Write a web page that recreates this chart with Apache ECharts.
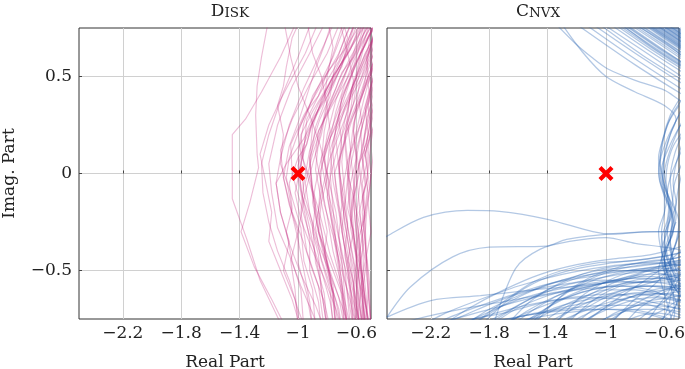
<!DOCTYPE html>
<html>
<head>
<meta charset="utf-8">
<script src="https://cdn.jsdelivr.net/npm/echarts@6/dist/echarts.min.js"></script>
<style>
  html, body { margin: 0; padding: 0; background: #fff; }
  #chart { width: 685px; height: 369px; }
</style>
</head>
<body>
<div id="chart"></div>
<script>
// tick values shared by both panels
const xTicks = [-2.2, -1.8, -1.4, -1, -0.6];
const yTicks = [-0.5, 0, 0.5];
const critical = [[-1, 0]];

// Disk panel: Nyquist curves (real, imag)
const diskCurves = [
  [[-1.0,0.8],[-1.12,0.6],[-1.25,0.42],[-1.36,0.28],[-1.45,0.2],[-1.45,0.05],[-1.45,-0.13],[-1.35,-0.34],[-1.26,-0.55],[-1.14,-0.74],[-1.1,-0.8]],
  [[-1.2,0.8],[-1.25,0.6],[-1.28,0.45],[-1.29,0.3],[-1.28,0.1],[-1.27,0.03],[-1.33,-0.15],[-1.39,-0.3],[-1.3,-0.48],[-1.18,-0.65],[-1.08,-0.8]],
  [[-0.9,0.8],[-1.0,0.6],[-1.1,0.42],[-1.2,0.2],[-1.25,0.05],[-1.24,-0.1],[-1.2,-0.25],[-1.14,-0.4],[-1.06,-0.55],[-1.0,-0.7],[-0.95,-0.8]],
  [[-0.8,0.8],[-0.92,0.62],[-1.04,0.45],[-1.14,0.25],[-1.2,0.05],[-1.18,-0.1],[-1.14,-0.28],[-1.06,-0.42],[-0.98,-0.58],[-0.9,-0.72],[-0.86,-0.8]],
  [[-0.74,0.8],[-0.86,0.6],[-0.96,0.44],[-1.06,0.25],[-1.12,0.08],[-1.15,-0.05],[-1.12,-0.2],[-1.06,-0.36],[-0.98,-0.52],[-0.88,-0.68],[-0.82,-0.8]],
  [[-0.7,0.8],[-0.8,0.62],[-0.92,0.46],[-1.04,0.28],[-1.12,0.12],[-1.1,-0.02],[-1.05,-0.18],[-1.0,-0.34],[-0.96,-0.5],[-0.92,-0.66],[-0.9,-0.8]],
  [[-0.66,0.8],[-0.76,0.6],[-0.86,0.45],[-0.98,0.25],[-1.06,0.08],[-1.08,-0.02],[-1.04,-0.2],[-0.96,-0.36],[-0.9,-0.5],[-0.82,-0.66],[-0.78,-0.8]],
  [[-0.62,0.8],[-0.72,0.62],[-0.84,0.46],[-0.96,0.3],[-1.05,0.15],[-1.04,0.0],[-0.98,-0.16],[-0.92,-0.32],[-0.84,-0.5],[-0.78,-0.66],[-0.75,-0.8]],
  [[-0.6,0.8],[-0.7,0.6],[-0.8,0.44],[-0.9,0.26],[-0.97,0.08],[-1.02,-0.1],[-0.98,-0.24],[-0.9,-0.4],[-0.82,-0.54],[-0.74,-0.7],[-0.7,-0.8]],
  [[-0.58,0.8],[-0.66,0.64],[-0.76,0.48],[-0.88,0.3],[-0.96,0.15],[-1.0,0.04],[-0.97,-0.12],[-0.9,-0.28],[-0.84,-0.44],[-0.76,-0.62],[-0.72,-0.8]],
  [[-0.56,0.8],[-0.64,0.64],[-0.76,0.5],[-0.9,0.32],[-0.98,0.2],[-0.96,0.05],[-0.9,-0.1],[-0.86,-0.28],[-0.8,-0.46],[-0.72,-0.64],[-0.68,-0.8]],
  [[-0.55,0.8],[-0.62,0.62],[-0.72,0.44],[-0.82,0.28],[-0.9,0.1],[-0.95,-0.05],[-0.92,-0.2],[-0.86,-0.36],[-0.78,-0.52],[-0.7,-0.68],[-0.65,-0.8]],
  [[-0.53,0.8],[-0.6,0.64],[-0.7,0.48],[-0.8,0.32],[-0.88,0.18],[-0.92,0.08],[-0.9,-0.08],[-0.84,-0.24],[-0.78,-0.42],[-0.7,-0.6],[-0.66,-0.8]],
  [[-0.5,0.8],[-0.58,0.6],[-0.68,0.42],[-0.76,0.25],[-0.84,0.08],[-0.88,-0.06],[-0.9,-0.15],[-0.86,-0.3],[-0.78,-0.46],[-0.7,-0.62],[-0.66,-0.8]],
  [[-0.46,0.82],[-0.54,0.66],[-0.64,0.52],[-0.76,0.36],[-0.86,0.22],[-0.88,0.1],[-0.84,-0.06],[-0.8,-0.22],[-0.76,-0.4],[-0.7,-0.58],[-0.64,-0.8]],
  [[-0.45,0.8],[-0.52,0.62],[-0.62,0.46],[-0.72,0.3],[-0.8,0.14],[-0.85,0.0],[-0.82,-0.16],[-0.76,-0.32],[-0.7,-0.5],[-0.64,-0.66],[-0.6,-0.8]],
  [[-0.44,0.78],[-0.5,0.64],[-0.58,0.5],[-0.68,0.34],[-0.78,0.18],[-0.82,0.08],[-0.8,-0.08],[-0.74,-0.26],[-0.7,-0.42],[-0.64,-0.6],[-0.6,-0.8]],
  [[-0.45,0.76],[-0.5,0.6],[-0.58,0.44],[-0.66,0.28],[-0.74,0.1],[-0.78,-0.02],[-0.8,-0.12],[-0.76,-0.28],[-0.7,-0.46],[-0.66,-0.62],[-0.62,-0.8]],
  [[-0.44,0.74],[-0.5,0.62],[-0.56,0.5],[-0.66,0.36],[-0.74,0.22],[-0.78,0.12],[-0.76,-0.04],[-0.72,-0.2],[-0.68,-0.38],[-0.62,-0.56],[-0.58,-0.8]],
  [[-0.44,0.72],[-0.5,0.58],[-0.56,0.44],[-0.64,0.28],[-0.7,0.12],[-0.75,0.0],[-0.72,-0.16],[-0.68,-0.32],[-0.64,-0.5],[-0.6,-0.66],[-0.58,-0.8]],
  [[-0.45,0.7],[-0.49,0.56],[-0.55,0.44],[-0.62,0.3],[-0.68,0.16],[-0.72,0.06],[-0.7,-0.1],[-0.66,-0.28],[-0.62,-0.46],[-0.58,-0.64],[-0.56,-0.8]],
  [[-0.45,0.66],[-0.5,0.52],[-0.55,0.38],[-0.6,0.22],[-0.66,0.06],[-0.7,-0.1],[-0.68,-0.26],[-0.64,-0.42],[-0.6,-0.58],[-0.57,-0.72],[-0.55,-0.8]],
  [[-0.44,0.68],[-0.48,0.56],[-0.54,0.44],[-0.62,0.3],[-0.68,0.2],[-0.66,0.06],[-0.64,-0.1],[-0.62,-0.28],[-0.6,-0.46],[-0.56,-0.64],[-0.54,-0.8]],
  [[-0.45,0.6],[-0.5,0.46],[-0.55,0.32],[-0.6,0.18],[-0.64,0.04],[-0.66,-0.06],[-0.64,-0.22],[-0.6,-0.4],[-0.58,-0.56],[-0.55,-0.7],[-0.53,-0.8]],
  [[-0.45,0.56],[-0.49,0.44],[-0.54,0.32],[-0.6,0.2],[-0.64,0.1],[-0.62,-0.04],[-0.6,-0.2],[-0.58,-0.38],[-0.56,-0.56],[-0.53,-0.72],[-0.52,-0.8]],
  [[-0.46,0.5],[-0.5,0.36],[-0.54,0.22],[-0.58,0.06],[-0.6,-0.06],[-0.62,-0.15],[-0.6,-0.3],[-0.57,-0.46],[-0.55,-0.6],[-0.52,-0.74],[-0.5,-0.8]],
  [[-0.46,0.44],[-0.5,0.32],[-0.54,0.2],[-0.57,0.08],[-0.6,0.0],[-0.58,-0.16],[-0.56,-0.32],[-0.55,-0.5],[-0.53,-0.66],[-0.52,-0.8]],
  [[-0.47,0.38],[-0.5,0.28],[-0.53,0.16],[-0.58,0.05],[-0.56,-0.1],[-0.54,-0.26],[-0.53,-0.44],[-0.51,-0.62],[-0.5,-0.8]],
  [[-0.47,0.3],[-0.5,0.16],[-0.52,0.02],[-0.55,-0.12],[-0.56,-0.2],[-0.54,-0.36],[-0.53,-0.52],[-0.51,-0.68],[-0.5,-0.8]],
  [[-0.47,0.2],[-0.49,0.06],[-0.51,-0.08],[-0.53,-0.2],[-0.54,-0.32],[-0.53,-0.46],[-0.52,-0.62],[-0.5,-0.78]],
  [[-1.1,0.8],[-1.05,0.6],[-1.0,0.45],[-0.92,0.3],[-0.85,0.15],[-0.8,0.0],[-0.74,-0.2],[-0.7,-0.45],[-0.66,-0.8]],
  [[-0.6,0.8],[-0.68,0.6],[-0.76,0.45],[-0.86,0.32],[-0.96,0.18],[-1.08,0.05],[-1.15,-0.05],[-1.12,-0.2],[-1.06,-0.35],[-1.1,-0.5],[-1.02,-0.65],[-0.98,-0.8]],
  [[-0.94,0.8],[-0.9,0.62],[-0.84,0.5],[-0.8,0.35],[-0.84,0.2],[-0.9,0.05],[-0.95,-0.1],[-1.0,-0.3],[-1.05,-0.45],[-1.02,-0.6],[-1.0,-0.8]],
  [[-0.72,0.8],[-0.66,0.62],[-0.62,0.48],[-0.66,0.32],[-0.72,0.2],[-0.78,0.08],[-0.84,-0.1],[-0.88,-0.28],[-0.84,-0.45],[-0.78,-0.6],[-0.76,-0.8]],
  [[-0.85,0.8],[-0.95,0.62],[-1.05,0.48],[-1.12,0.38],[-1.2,0.25],[-1.26,0.1],[-1.22,-0.05],[-1.18,-0.2],[-1.2,-0.35],[-1.12,-0.5],[-1.04,-0.65],[-0.98,-0.8]],
  [[-0.8,0.8],[-0.76,0.65],[-0.8,0.5],[-0.82,0.38],[-0.9,0.28],[-0.94,0.15],[-1.0,0.08],[-1.06,-0.05],[-1.04,-0.18],[-1.08,-0.3],[-1.04,-0.45],[-0.98,-0.6],[-0.96,-0.8]],
  [[-0.7,0.8],[-0.66,0.7],[-0.72,0.58],[-0.8,0.48],[-0.86,0.4],[-0.94,0.32],[-1.0,0.22],[-0.98,0.1],[-0.92,-0.02],[-0.88,-0.15],[-0.9,-0.3],[-0.86,-0.42],[-0.84,-0.6],[-0.8,-0.8]],
  [[-0.52,0.8],[-0.56,0.7],[-0.62,0.6],[-0.7,0.52],[-0.74,0.44],[-0.8,0.34],[-0.78,0.22],[-0.82,0.1],[-0.8,-0.02],[-0.84,-0.15],[-0.8,-0.3],[-0.82,-0.42],[-0.76,-0.58],[-0.74,-0.8]],
  [[-0.5,0.9],[-0.62,0.8],[-0.68,0.7],[-0.75,0.55],[-0.78,0.4],[-0.85,0.28],[-0.92,0.12],[-0.96,-0.05],[-0.98,-0.2],[-0.94,-0.4],[-0.86,-0.58],[-0.82,-0.8]],
  [[-0.98,0.8],[-1.04,0.7],[-1.08,0.55],[-1.1,0.45],[-1.14,0.35],[-1.1,0.2],[-1.12,0.05],[-1.05,-0.1],[-0.98,-0.28],[-0.96,-0.45],[-0.9,-0.6],[-0.88,-0.8]],
  [[-0.5,0.82],[-0.6,0.7],[-0.7,0.56],[-0.8,0.4],[-0.88,0.24],[-0.92,0.05],[-0.9,-0.12],[-0.86,-0.3],[-0.8,-0.5],[-0.74,-0.66],[-0.7,-0.8]],
  [[-0.47,0.8],[-0.56,0.68],[-0.66,0.54],[-0.74,0.38],[-0.8,0.2],[-0.84,0.02],[-0.86,-0.2],[-0.82,-0.38],[-0.78,-0.56],[-0.72,-0.7],[-0.7,-0.8]],
  [[-0.54,0.8],[-0.62,0.68],[-0.74,0.52],[-0.86,0.36],[-0.94,0.22],[-0.98,0.06],[-0.96,-0.1],[-0.9,-0.26],[-0.88,-0.46],[-0.82,-0.62],[-0.8,-0.8]],
  [[-0.46,0.78],[-0.52,0.7],[-0.6,0.58],[-0.66,0.44],[-0.72,0.3],[-0.76,0.16],[-0.78,0.0],[-0.76,-0.18],[-0.74,-0.36],[-0.7,-0.56],[-0.68,-0.8]],
  [[-0.45,0.74],[-0.54,0.62],[-0.62,0.46],[-0.68,0.34],[-0.74,0.18],[-0.72,0.02],[-0.68,-0.14],[-0.7,-0.3],[-0.66,-0.46],[-0.62,-0.62],[-0.6,-0.8]],
  [[-0.44,0.66],[-0.5,0.54],[-0.56,0.4],[-0.62,0.26],[-0.64,0.12],[-0.66,-0.02],[-0.68,-0.18],[-0.64,-0.36],[-0.6,-0.52],[-0.6,-0.68],[-0.57,-0.8]],
  [[-0.45,0.62],[-0.48,0.5],[-0.52,0.38],[-0.56,0.24],[-0.6,0.08],[-0.62,-0.08],[-0.64,-0.24],[-0.6,-0.42],[-0.58,-0.58],[-0.55,-0.8]],
  [[-0.6,0.8],[-0.66,0.68],[-0.7,0.55],[-0.78,0.44],[-0.82,0.3],[-0.86,0.16],[-0.88,0.02],[-0.84,-0.14],[-0.86,-0.3],[-0.8,-0.46],[-0.76,-0.62],[-0.74,-0.8]],
  [[-0.68,0.8],[-0.74,0.66],[-0.8,0.52],[-0.86,0.4],[-0.94,0.28],[-0.96,0.12],[-1.0,-0.02],[-0.96,-0.18],[-0.92,-0.34],[-0.92,-0.5],[-0.86,-0.66],[-0.84,-0.8]],
  [[-0.76,0.8],[-0.82,0.66],[-0.88,0.54],[-0.94,0.4],[-1.0,0.26],[-1.06,0.14],[-1.1,-0.02],[-1.06,-0.16],[-1.0,-0.3],[-1.0,-0.46],[-0.94,-0.62],[-0.9,-0.8]],
  [[-0.46,0.4],[-0.5,0.3],[-0.53,0.15],[-0.52,-0.05],[-0.55,-0.25],[-0.53,-0.45],[-0.56,-0.62],[-0.54,-0.8]],
  [[-0.46,0.3],[-0.5,0.2],[-0.55,0.08],[-0.58,-0.08],[-0.6,-0.22],[-0.57,-0.42],[-0.6,-0.58],[-0.58,-0.8]],
  [[-0.46,0.55],[-0.5,0.45],[-0.52,0.35],[-0.57,0.22],[-0.56,0.08],[-0.52,-0.1],[-0.55,-0.28],[-0.58,-0.42],[-0.55,-0.58],[-0.52,-0.8]],
  [[-0.48,0.72],[-0.52,0.6],[-0.54,0.48],[-0.58,0.36],[-0.56,0.24],[-0.6,0.12],[-0.58,0.0],[-0.62,-0.12],[-0.58,-0.26],[-0.6,-0.4],[-0.56,-0.54],[-0.58,-0.68],[-0.56,-0.8]],
  [[-0.48,0.45],[-0.52,0.35],[-0.5,0.22],[-0.54,0.1],[-0.52,-0.02],[-0.56,-0.12],[-0.54,-0.22],[-0.58,-0.32],[-0.56,-0.5],[-0.54,-0.65],[-0.55,-0.8]],
  [[-0.47,0.35],[-0.5,0.25],[-0.52,0.12],[-0.5,0.0],[-0.52,-0.15],[-0.5,-0.3],[-0.53,-0.42],[-0.51,-0.56],[-0.53,-0.7],[-0.51,-0.8]],
  [[-0.44,0.8],[-0.5,0.74],[-0.52,0.64],[-0.56,0.56],[-0.6,0.46],[-0.62,0.36],[-0.66,0.26],[-0.64,0.12],[-0.66,0.0],[-0.62,-0.12],[-0.64,-0.28],[-0.6,-0.44],[-0.62,-0.6],[-0.58,-0.8]],
  [[-0.45,0.68],[-0.5,0.58],[-0.5,0.45],[-0.54,0.34],[-0.52,0.2],[-0.56,0.08],[-0.54,-0.06],[-0.58,-0.2],[-0.55,-0.36],[-0.58,-0.5],[-0.55,-0.64],[-0.57,-0.8]],
  [[-0.43,0.77],[-0.48,0.7],[-0.53,0.6],[-0.52,0.5],[-0.56,0.4],[-0.6,0.32],[-0.62,0.22],[-0.6,0.08],[-0.64,-0.05],[-0.66,-0.18],[-0.62,-0.3],[-0.66,-0.45],[-0.64,-0.6],[-0.6,-0.72],[-0.6,-0.8]],
  [[-0.46,0.65],[-0.48,0.55],[-0.52,0.46],[-0.5,0.36],[-0.53,0.28],[-0.55,0.15],[-0.53,0.05],[-0.56,-0.05],[-0.54,-0.18],[-0.57,-0.3],[-0.54,-0.45],[-0.57,-0.58],[-0.53,-0.7],[-0.55,-0.8]],
  [[-0.42,0.9],[-0.5,0.8],[-0.56,0.7],[-0.6,0.6],[-0.64,0.5],[-0.7,0.4],[-0.72,0.28],[-0.7,0.14],[-0.72,0.0],[-0.7,-0.16],[-0.72,-0.32],[-0.68,-0.48],[-0.66,-0.64],[-0.64,-0.8]],
  [[-0.42,0.85],[-0.48,0.76],[-0.54,0.68],[-0.58,0.56],[-0.62,0.44],[-0.64,0.32],[-0.68,0.2],[-0.7,0.06],[-0.68,-0.1],[-0.66,-0.26],[-0.68,-0.42],[-0.64,-0.58],[-0.62,-0.8]],
  [[-0.42,0.88],[-0.55,0.72],[-0.64,0.6],[-0.72,0.48],[-0.78,0.36],[-0.82,0.22],[-0.84,0.06],[-0.8,-0.1],[-0.76,-0.3],[-0.72,-0.5],[-0.68,-0.8]],
  [[-0.43,0.86],[-0.54,0.7],[-0.62,0.58],[-0.68,0.46],[-0.74,0.32],[-0.78,0.18],[-0.8,0.02],[-0.78,-0.16],[-0.74,-0.36],[-0.7,-0.56],[-0.66,-0.8]],
  [[-0.42,0.84],[-0.52,0.7],[-0.58,0.6],[-0.64,0.5],[-0.7,0.38],[-0.74,0.24],[-0.76,0.1],[-0.74,-0.08],[-0.7,-0.28],[-0.66,-0.5],[-0.62,-0.8]],
  [[-0.42,0.8],[-0.5,0.68],[-0.56,0.58],[-0.62,0.46],[-0.66,0.34],[-0.7,0.2],[-0.72,0.04],[-0.7,-0.14],[-0.66,-0.34],[-0.62,-0.56],[-0.6,-0.8]],
  [[-0.44,0.9],[-0.56,0.74],[-0.66,0.62],[-0.76,0.5],[-0.84,0.38],[-0.9,0.24],[-0.92,0.08],[-0.9,-0.1],[-0.84,-0.3],[-0.78,-0.52],[-0.74,-0.8]],
  [[-0.45,0.92],[-0.58,0.76],[-0.68,0.64],[-0.8,0.52],[-0.9,0.4],[-0.96,0.26],[-1.0,0.1],[-0.98,-0.08],[-0.92,-0.28],[-0.86,-0.5],[-0.8,-0.8]],
  [[-0.42,0.82],[-0.5,0.72],[-0.57,0.62],[-0.6,0.52],[-0.64,0.42],[-0.66,0.3],[-0.68,0.16],[-0.66,0.0],[-0.64,-0.2],[-0.6,-0.42],[-0.58,-0.8]],
  [[-0.43,0.78],[-0.5,0.66],[-0.54,0.56],[-0.58,0.46],[-0.6,0.36],[-0.62,0.22],[-0.6,0.06],[-0.62,-0.12],[-0.6,-0.34],[-0.56,-0.56],[-0.55,-0.8]]
];

// Cnvx panel: Nyquist curves (real, imag)
const cnvxCurves = [
  [[-1.26,0.8],[-0.8,0.56],[-0.45,0.395]],
  [[-1.2,0.8],[-0.8,0.59],[-0.45,0.42]],
  [[-1.15,0.8],[-0.8,0.62],[-0.45,0.45]],
  [[-1.1,0.8],[-0.75,0.61],[-0.45,0.47]],
  [[-1.08,0.8],[-0.75,0.635],[-0.45,0.485]],
  [[-1.03,0.8],[-0.7,0.63],[-0.45,0.51]],
  [[-1.0,0.8],[-0.7,0.645],[-0.45,0.525]],
  [[-0.98,0.8],[-0.7,0.655],[-0.45,0.535]],
  [[-0.96,0.8],[-0.7,0.665],[-0.45,0.545]],
  [[-0.95,0.8],[-0.7,0.66],[-0.45,0.54]],
  [[-0.94,0.8],[-0.65,0.65],[-0.45,0.552]],
  [[-0.93,0.8],[-0.65,0.655],[-0.45,0.56]],
  [[-0.92,0.8],[-0.65,0.66],[-0.45,0.557]],
  [[-0.9,0.8],[-0.65,0.675],[-0.45,0.575]],
  [[-0.88,0.8],[-0.65,0.685],[-0.45,0.585]],
  [[-0.87,0.8],[-0.6,0.675],[-0.45,0.59]],
  [[-0.86,0.8],[-0.6,0.67],[-0.45,0.595]],
  [[-0.84,0.8],[-0.6,0.68],[-0.45,0.605]],
  [[-0.83,0.8],[-0.6,0.685],[-0.45,0.61]],
  [[-0.81,0.8],[-0.6,0.695],[-0.45,0.62]],
  [[-0.8,0.8],[-0.6,0.7],[-0.45,0.625]],
  [[-0.79,0.8],[-0.6,0.705],[-0.45,0.63]],
  [[-0.785,0.8],[-0.45,0.632]],
  [[-0.775,0.8],[-0.45,0.638]],
  [[-0.77,0.8],[-0.45,0.64]],
  [[-0.76,0.8],[-0.45,0.645]],
  [[-0.75,0.8],[-0.45,0.65]],
  [[-0.74,0.8],[-0.45,0.655]],
  [[-0.73,0.8],[-0.45,0.66]],
  [[-0.725,0.8],[-0.45,0.662]],
  [[-0.72,0.8],[-0.45,0.665]],
  [[-0.71,0.8],[-0.45,0.67]],
  [[-0.7,0.8],[-0.45,0.675]],
  [[-0.69,0.8],[-0.45,0.68]],
  [[-0.685,0.8],[-0.45,0.682]],
  [[-0.68,0.8],[-0.45,0.685]],
  [[-0.67,0.8],[-0.45,0.69]],
  [[-0.66,0.8],[-0.45,0.695]],
  [[-0.65,0.8],[-0.45,0.7]],
  [[-0.645,0.8],[-0.45,0.702]],
  [[-0.64,0.8],[-0.45,0.705]],
  [[-0.63,0.8],[-0.45,0.71]],
  [[-0.62,0.8],[-0.45,0.715]],
  [[-0.61,0.8],[-0.45,0.72]],
  [[-0.6,0.8],[-0.45,0.725]],
  [[-0.58,0.8],[-0.45,0.735]],
  [[-0.56,0.8],[-0.45,0.745]],
  [[-1.38,0.8],[-1.21,0.67],[-1.1,0.6],[-0.99,0.54],[-0.8,0.48],[-0.6,0.43],[-0.5,0.38],[-0.45,0.36]],
  [[-1.33,0.8],[-1.16,0.625],[-1.0,0.5],[-0.8,0.42],[-0.6,0.35],[-0.52,0.28],[-0.56,0.2],[-0.6,0.08],[-0.61,-0.04],[-0.56,-0.15],[-0.53,-0.26],[-0.57,-0.36],[-0.6,-0.44],[-0.56,-0.55],[-0.5,-0.62]],
  [[-0.5,0.3],[-0.58,0.18],[-0.63,0.05],[-0.62,-0.05],[-0.58,-0.14],[-0.54,-0.25],[-0.58,-0.35],[-0.62,-0.45],[-0.55,-0.6],[-0.5,-0.7]],
  [[-0.49,0.32],[-0.55,0.22],[-0.6,0.1],[-0.61,-0.02],[-0.57,-0.12],[-0.52,-0.22],[-0.55,-0.32],[-0.6,-0.42],[-0.58,-0.52],[-0.5,-0.6]],
  [[-0.49,0.25],[-0.56,0.15],[-0.62,0.02],[-0.6,-0.1],[-0.55,-0.2],[-0.54,-0.3],[-0.6,-0.4],[-0.64,-0.5],[-0.6,-0.62],[-0.55,-0.75]],
  [[-0.5,0.35],[-0.58,0.25],[-0.62,0.12],[-0.64,0.0],[-0.6,-0.12],[-0.56,-0.2],[-0.58,-0.3],[-0.56,-0.4],[-0.52,-0.5]],
  [[-0.48,0.2],[-0.53,0.1],[-0.56,-0.02],[-0.54,-0.15],[-0.5,-0.25],[-0.52,-0.35],[-0.56,-0.45],[-0.52,-0.55]],
  [[-0.48,0.12],[-0.55,0.0],[-0.58,-0.1],[-0.55,-0.22],[-0.56,-0.34],[-0.6,-0.44],[-0.57,-0.54],[-0.5,-0.62]],
  [[-0.48,0.05],[-0.53,-0.05],[-0.55,-0.18],[-0.58,-0.3],[-0.62,-0.4],[-0.6,-0.5],[-0.54,-0.6]],
  [[-0.48,0.38],[-0.55,0.3],[-0.6,0.2],[-0.64,0.08],[-0.63,-0.04],[-0.6,-0.12],[-0.6,-0.2],[-0.62,-0.3],[-0.6,-0.4],[-0.55,-0.5],[-0.5,-0.55]],
  [[-0.47,0.28],[-0.52,0.2],[-0.57,0.1],[-0.6,0.0],[-0.58,-0.1],[-0.6,-0.2],[-0.64,-0.3],[-0.62,-0.4],[-0.58,-0.48],[-0.52,-0.58]],
  [[-0.48,0.15],[-0.52,0.05],[-0.54,-0.05],[-0.52,-0.15],[-0.56,-0.24],[-0.6,-0.32],[-0.58,-0.42],[-0.53,-0.5]],
  [[-0.47,0.22],[-0.54,0.14],[-0.58,0.04],[-0.59,-0.06],[-0.56,-0.16],[-0.58,-0.26],[-0.6,-0.36],[-0.57,-0.46],[-0.52,-0.52]],
  [[-0.5,0.38],[-0.56,0.3],[-0.61,0.18],[-0.63,0.06],[-0.6,-0.06],[-0.57,-0.16],[-0.58,-0.24],[-0.62,-0.34],[-0.6,-0.46],[-0.54,-0.56]],
  [[-0.48,0.0],[-0.51,-0.1],[-0.53,-0.22],[-0.56,-0.32],[-0.55,-0.42],[-0.5,-0.5]],
  [[-2.55,-0.35],[-2.5,-0.323],[-2.25,-0.226],[-1.95,-0.19],[-1.73,-0.195],[-1.4,-0.236],[-1.09,-0.3],[-0.95,-0.313],[-0.7,-0.3],[-0.45,-0.3]],
  [[-2.5,-0.74],[-2.34,-0.585],[-2.05,-0.43],[-1.8,-0.38],[-1.41,-0.374],[-1.27,-0.34],[-0.95,-0.31],[-0.6,-0.3],[-0.45,-0.3]],
  [[-1.78,-0.8],[-1.62,-0.49],[-1.45,-0.39],[-1.25,-0.35],[-1.0,-0.33],[-0.8,-0.36],[-0.6,-0.38],[-0.45,-0.4]],
  [[-2.5,-0.74],[-2.2,-0.655],[-1.86,-0.63],[-1.5,-0.6],[-1.2,-0.58],[-0.9,-0.55],[-0.7,-0.5],[-0.45,-0.45]],
  [[-2.3,-0.8],[-2.1,-0.72],[-1.9,-0.66],[-1.6,-0.58],[-1.3,-0.52],[-1.0,-0.48],[-0.75,-0.46],[-0.55,-0.44],[-0.45,-0.42]],
  [[-2.15,-0.8],[-1.95,-0.7],[-1.7,-0.6],[-1.45,-0.52],[-1.2,-0.47],[-0.95,-0.44],[-0.7,-0.42],[-0.5,-0.38],[-0.45,-0.36]],
  [[-2.0,-0.8],[-1.8,-0.7],[-1.6,-0.63],[-1.35,-0.56],[-1.1,-0.52],[-0.85,-0.5],[-0.65,-0.48],[-0.45,-0.47]],
  [[-1.9,-0.8],[-1.7,-0.72],[-1.5,-0.64],[-1.25,-0.57],[-1.0,-0.55],[-0.8,-0.56],[-0.6,-0.55],[-0.45,-0.52]],
  [[-1.85,-0.8],[-1.6,-0.68],[-1.4,-0.6],[-1.2,-0.54],[-0.95,-0.5],[-0.75,-0.5],[-0.6,-0.52],[-0.45,-0.55]],
  [[-1.75,-0.8],[-1.55,-0.72],[-1.35,-0.66],[-1.1,-0.6],[-0.9,-0.58],[-0.7,-0.6],[-0.55,-0.64],[-0.45,-0.66]],
  [[-1.68,-0.8],[-1.45,-0.68],[-1.25,-0.6],[-1.0,-0.53],[-0.78,-0.5],[-0.6,-0.5],[-0.45,-0.5]],
  [[-1.6,-0.8],[-1.4,-0.72],[-1.2,-0.65],[-1.0,-0.6],[-0.8,-0.6],[-0.62,-0.62],[-0.45,-0.6]],
  [[-1.5,-0.8],[-1.3,-0.7],[-1.1,-0.62],[-0.9,-0.55],[-0.7,-0.53],[-0.55,-0.55],[-0.45,-0.58]],
  [[-1.42,-0.8],[-1.25,-0.74],[-1.05,-0.68],[-0.85,-0.64],[-0.65,-0.62],[-0.45,-0.64]],
  [[-1.35,-0.8],[-1.15,-0.7],[-0.95,-0.62],[-0.75,-0.58],[-0.6,-0.58],[-0.45,-0.6]],
  [[-1.25,-0.8],[-1.05,-0.72],[-0.85,-0.66],[-0.68,-0.64],[-0.5,-0.66],[-0.45,-0.68]],
  [[-1.15,-0.8],[-0.98,-0.74],[-0.8,-0.7],[-0.62,-0.7],[-0.45,-0.72]],
  [[-1.05,-0.8],[-0.9,-0.72],[-0.72,-0.66],[-0.56,-0.64],[-0.45,-0.62]],
  [[-0.95,-0.8],[-0.8,-0.74],[-0.65,-0.72],[-0.5,-0.74],[-0.45,-0.76]],
  [[-2.1,-0.8],[-1.85,-0.74],[-1.55,-0.68],[-1.25,-0.64],[-0.95,-0.62],[-0.7,-0.66],[-0.5,-0.7],[-0.45,-0.72]],
  [[-2.0,-0.8],[-1.75,-0.76],[-1.45,-0.72],[-1.15,-0.7],[-0.85,-0.7],[-0.6,-0.74],[-0.5,-0.78]],
  [[-1.95,-0.8],[-1.7,-0.66],[-1.5,-0.56],[-1.3,-0.5],[-1.05,-0.46],[-0.82,-0.45],[-0.62,-0.43],[-0.45,-0.4]],
  [[-1.8,-0.8],[-1.6,-0.74],[-1.35,-0.7],[-1.1,-0.66],[-0.85,-0.62],[-0.6,-0.6],[-0.45,-0.56]],
  [[-1.72,-0.8],[-1.52,-0.7],[-1.3,-0.62],[-1.05,-0.57],[-0.82,-0.54],[-0.62,-0.5],[-0.45,-0.46]],
  [[-2.3,-0.8],[-2.0,-0.76],[-1.7,-0.72],[-1.4,-0.66],[-1.1,-0.64],[-0.8,-0.66],[-0.6,-0.7],[-0.45,-0.74]],
  [[-1.55,-0.8],[-1.35,-0.66],[-1.15,-0.56],[-0.95,-0.5],[-0.75,-0.47],[-0.58,-0.46],[-0.45,-0.44]],
  [[-1.3,-0.8],[-1.1,-0.66],[-0.9,-0.58],[-0.7,-0.55],[-0.55,-0.5],[-0.45,-0.48]],
  [[-0.85,-0.8],[-0.72,-0.72],[-0.6,-0.66],[-0.52,-0.6],[-0.45,-0.56]],
  [[-0.75,-0.8],[-0.66,-0.7],[-0.58,-0.62],[-0.52,-0.54],[-0.45,-0.5]],
  [[-2.5,-0.8],[-2.3,-0.75],[-2.0,-0.7],[-1.7,-0.66],[-1.4,-0.62],[-1.1,-0.58],[-0.8,-0.52],[-0.6,-0.47],[-0.45,-0.45]],
  [[-0.65,-0.8],[-0.58,-0.7],[-0.55,-0.58],[-0.56,-0.46],[-0.52,-0.36],[-0.5,-0.3]],
  [[-0.6,-0.8],[-0.52,-0.68],[-0.5,-0.56],[-0.54,-0.44],[-0.56,-0.34],[-0.52,-0.25]],
  [[-1.0,-0.8],[-0.82,-0.66],[-0.68,-0.58],[-0.58,-0.5],[-0.54,-0.4],[-0.5,-0.32]],
  [[-1.2,-0.8],[-0.95,-0.66],[-0.75,-0.56],[-0.6,-0.48],[-0.52,-0.42],[-0.45,-0.38]],
  [[-2.2,-0.8],[-2.0,-0.74],[-1.75,-0.66],[-1.5,-0.6],[-1.2,-0.56],[-0.9,-0.52],[-0.65,-0.5],[-0.45,-0.5]],
  [[-2.05,-0.8],[-1.85,-0.73],[-1.6,-0.65],[-1.35,-0.6],[-1.05,-0.56],[-0.8,-0.54],[-0.6,-0.54],[-0.45,-0.56]],
  [[-1.95,-0.8],[-1.75,-0.7],[-1.55,-0.62],[-1.3,-0.55],[-1.05,-0.5],[-0.8,-0.48],[-0.6,-0.46],[-0.45,-0.44]],
  [[-1.82,-0.8],[-1.62,-0.7],[-1.4,-0.63],[-1.15,-0.58],[-0.9,-0.56],[-0.7,-0.56],[-0.5,-0.58],[-0.45,-0.6]],
  [[-1.7,-0.8],[-1.5,-0.74],[-1.3,-0.68],[-1.05,-0.64],[-0.8,-0.62],[-0.6,-0.64],[-0.45,-0.66]],
  [[-1.62,-0.8],[-1.42,-0.7],[-1.2,-0.62],[-0.98,-0.58],[-0.76,-0.56],[-0.58,-0.56],[-0.45,-0.54]],
  [[-1.58,-0.8],[-1.38,-0.68],[-1.16,-0.6],[-0.94,-0.55],[-0.72,-0.52],[-0.55,-0.52],[-0.45,-0.5]],
  [[-1.46,-0.8],[-1.28,-0.72],[-1.08,-0.65],[-0.88,-0.6],[-0.7,-0.58],[-0.54,-0.6],[-0.45,-0.62]],
  [[-1.4,-0.8],[-1.2,-0.68],[-1.0,-0.6],[-0.8,-0.55],[-0.64,-0.54],[-0.5,-0.52],[-0.45,-0.5]],
  [[-1.32,-0.8],[-1.12,-0.72],[-0.92,-0.66],[-0.74,-0.62],[-0.58,-0.62],[-0.45,-0.64]],
  [[-1.22,-0.8],[-1.02,-0.7],[-0.84,-0.64],[-0.68,-0.6],[-0.54,-0.58],[-0.45,-0.55]],
  [[-1.1,-0.8],[-0.94,-0.72],[-0.78,-0.68],[-0.62,-0.66],[-0.5,-0.68],[-0.45,-0.7]],
  [[-1.02,-0.8],[-0.86,-0.7],[-0.72,-0.64],[-0.6,-0.6],[-0.5,-0.58],[-0.45,-0.56]],
  [[-0.9,-0.8],[-0.78,-0.7],[-0.66,-0.64],[-0.56,-0.6],[-0.45,-0.6]],
  [[-0.8,-0.8],[-0.7,-0.74],[-0.6,-0.7],[-0.52,-0.66],[-0.45,-0.64]],
  [[-2.4,-0.8],[-2.1,-0.76],[-1.8,-0.7],[-1.5,-0.64],[-1.2,-0.6],[-0.9,-0.58],[-0.65,-0.58],[-0.45,-0.6]],
  [[-2.25,-0.8],[-2.0,-0.72],[-1.7,-0.64],[-1.4,-0.57],[-1.1,-0.53],[-0.85,-0.5],[-0.62,-0.48],[-0.45,-0.46]],
  [[-1.88,-0.8],[-1.65,-0.64],[-1.45,-0.55],[-1.2,-0.49],[-0.95,-0.46],[-0.72,-0.44],[-0.55,-0.42],[-0.45,-0.4]],
  [[-1.7,-0.8],[-1.52,-0.66],[-1.3,-0.56],[-1.08,-0.5],[-0.85,-0.47],[-0.65,-0.46],[-0.45,-0.48]],
  [[-1.52,-0.8],[-1.32,-0.64],[-1.12,-0.54],[-0.9,-0.48],[-0.7,-0.45],[-0.55,-0.44],[-0.45,-0.42]],
  [[-1.38,-0.8],[-1.18,-0.64],[-0.98,-0.55],[-0.78,-0.5],[-0.6,-0.49],[-0.45,-0.5]],
  [[-1.9,-0.8],[-1.6,-0.76],[-1.3,-0.72],[-1.0,-0.7],[-0.75,-0.72],[-0.55,-0.76],[-0.45,-0.78]],
  [[-2.15,-0.8],[-1.9,-0.78],[-1.6,-0.74],[-1.3,-0.7],[-1.0,-0.68],[-0.7,-0.68],[-0.45,-0.7]],
  [[-1.25,-0.8],[-1.05,-0.68],[-0.85,-0.6],[-0.68,-0.56],[-0.55,-0.53],[-0.45,-0.52]],
  [[-0.7,-0.8],[-0.6,-0.74],[-0.52,-0.68],[-0.48,-0.6]],
  [[-0.56,-0.8],[-0.53,-0.72],[-0.54,-0.62],[-0.5,-0.54]]
];

const diskColor = 'rgba(194, 39, 127, 0.3)';
const cnvxColor = 'rgba(45, 102, 181, 0.36)';
const serif = '"DejaVu Serif", serif';

const minus = (v) => String(v).replace('-', '\u2212');

const myChart = echarts.init(document.getElementById('chart'));

const grids = [
  {left: 79, top: 28, width: 292, height: 291},
  {left: 387, top: 28, width: 292, height: 291}
];

const makeX = (i) => ({
  type: 'value', gridIndex: i, min: -2.5, max: -0.5,
  name: 'Real Part', nameLocation: 'middle', nameGap: 35,
  nameTextStyle: {fontFamily: serif, fontSize: 17, color: '#222'},
  axisLine: {show: false},
  axisTick: {show: true, inside: true, length: 3, customValues: xTicks, lineStyle: {color: '#444'}},
  axisLabel: {customValues: xTicks, formatter: minus, fontFamily: serif, fontSize: 17, color: '#222', margin: 6},
  splitLine: {show: true, lineStyle: {color: '#d0d0d0', width: 1}}
});

const makeY = (i, labels) => ({
  type: 'value', gridIndex: i, min: -0.75, max: 0.75,
  name: labels ? 'Imag. Part' : '', nameLocation: 'middle', nameGap: 61,
  nameTextStyle: {fontFamily: serif, fontSize: 17, color: '#222'},
  axisLine: {show: false},
  axisTick: {show: true, inside: true, length: 3, customValues: yTicks, lineStyle: {color: '#444'}},
  axisLabel: {show: labels, customValues: yTicks, formatter: minus, fontFamily: serif, fontSize: 17, color: '#222', margin: 7},
  splitLine: {show: true, lineStyle: {color: '#d0d0d0', width: 1}}
});

const curveSeries = (curves, idx, color, smooth, width) => curves.map((c) => ({
  type: 'line', xAxisIndex: idx, yAxisIndex: idx, data: c,
  symbol: 'none', silent: true, clip: true, smooth: smooth,
  lineStyle: {color: color, width: width}
}));

const crossSeries = (idx) => ({
  type: 'scatter', xAxisIndex: idx, yAxisIndex: idx, data: critical, z: 10,
  symbol: 'path://M0,2L2,0L5,3L8,0L10,2L7,5L10,8L8,10L5,7L2,10L0,8L3,5Z',
  symbolSize: 15, itemStyle: {color: '#ff0000', opacity: 1}, silent: true
});

const titleRich = {
  a: {fontFamily: serif, fontSize: 17, fontWeight: 'normal', color: '#222', verticalAlign: 'bottom', lineHeight: 19},
  b: {fontFamily: serif, fontSize: 13.5, fontWeight: 'normal', color: '#222', verticalAlign: 'bottom', lineHeight: 19}
};

const option = {
  animation: false,
  backgroundColor: '#fff',
  title: [
    {text: '{a|D}{b|ISK}', left: 225, top: -4, textAlign: 'center', textStyle: {fontWeight: 'normal', rich: titleRich}},
    {text: '{a|C}{b|NVX}', left: 533, top: -4, textAlign: 'center', textStyle: {fontWeight: 'normal', rich: titleRich}}
  ],
  grid: grids.map((g) => Object.assign({show: true, borderColor: '#333', borderWidth: 1, backgroundColor: 'transparent', outerBoundsMode: 'none', containLabel: false}, g)),
  xAxis: [makeX(0), makeX(1)],
  yAxis: [makeY(0, true), makeY(1, false)],
  series: [
    ...curveSeries(diskCurves, 0, diskColor, false, 1.15),
    ...curveSeries(cnvxCurves, 1, cnvxColor, 0.3, 1.25),
    crossSeries(0),
    crossSeries(1)
  ]
};

myChart.setOption(option);
</script>
</body>
</html>
